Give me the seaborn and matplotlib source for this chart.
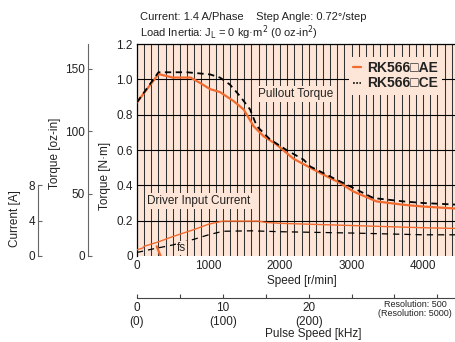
import numpy as np
import matplotlib
matplotlib.use("Agg")
import matplotlib.pyplot as plt
import seaborn as sns

# ---- data ----
speed_ae = [0, 300, 500, 750, 880, 1020, 1160, 1350, 1490, 1630, 1770, 1950, 2190,
            2560, 2840, 3025, 3350, 3725, 4000, 4600]
torque_ae = [0.87, 1.03, 1.01, 1.01, 0.98, 0.945, 0.928, 0.877, 0.83, 0.735, 0.678,
             0.631, 0.55, 0.47, 0.413, 0.365, 0.309, 0.29, 0.28, 0.265]

speed_ce = [0, 300, 700, 1020, 1160, 1300, 1440, 1580, 1675, 1860, 2090, 2330, 2420,
            2750, 3025, 3305, 3725, 4000, 4600]
torque_ce = [0.87, 1.04, 1.04, 1.028, 1.01, 0.97, 0.905, 0.83, 0.735, 0.66, 0.6,
             0.545, 0.507, 0.44, 0.385, 0.328, 0.309, 0.3, 0.288]

cur_speed_ae = [0, 80, 100, 300, 500, 800, 1000, 1200, 1700, 1800, 2000, 3000, 4000, 4600]
current_ae = [0.7, 0.9, 1.1, 1.6, 2.2, 3.0, 3.6, 3.95, 3.95, 3.8, 3.7, 3.45, 3.2, 3.1]

cur_speed_ce = [0, 200, 500, 800, 1000, 1200, 1600, 2000, 3000, 4000, 4600]
current_ce = [0.4, 0.76, 1.25, 1.9, 2.4, 2.8, 2.85, 2.75, 2.6, 2.4, 2.4]

fs_speed = [275, 330]
fs_current = [1.1, 0.0]

speed_ticks = [0, 1000, 2000, 3000, 4000]
torque_ticks = [0, 0.2, 0.4, 0.6, 0.8, 1.0, 1.2]
torque_labels = ["0", "0.2", "0.4", "0.6", "0.8", "1.0", "1.2"]
ozin_ticks = [0, 50, 100, 150]
current_ticks = [0, 4, 8]
pulse_ticks = [0, 5, 10, 15, 20, 25, 30, 35]
pulse_labels = ["0\n(0)", "", "10\n(100)", "", "20\n(200)", "", "", ""]

ORANGE = "#f26a2e"
PEACH = "#fde6d7"
FONT = ["Liberation Sans", "DejaVu Sans"]
TICK_SIZE = 8.5

sns.set_style("white")
plt.rcParams["font.family"] = FONT
plt.rcParams["font.size"] = 8
plt.rcParams["text.color"] = "#222222"

W, H = 456, 342
fig = plt.figure(figsize=(W / 100, H / 100), dpi=100)
# plot box in pixels: x 137 -> 466 (cropped by the figure edge), y 44 -> 256
ax = fig.add_axes([137 / W, (H - 256) / H, 329 / W, 212 / H])
ax.set_facecolor(PEACH)
xmax = 4600
ax.set_xlim(0, xmax)
ax.set_ylim(0, 1.2)

# grid: vertical every 100 r/min, horizontal every 0.2 N·m
for v in range(100, xmax, 100):
    ax.axvline(v, color="#333333", lw=0.75, zorder=1)
for h in torque_ticks[1:-1]:
    ax.axhline(h, color="black", lw=0.8, zorder=1)

sns.lineplot(x=speed_ae, y=torque_ae, ax=ax, color=ORANGE, lw=1.6,
             label="RK566\u25a1AE", zorder=4)
sns.lineplot(x=speed_ce, y=torque_ce, ax=ax, color="black", lw=1.3,
             linestyle=(0, (3.5, 2.5)), label="RK566\u25a1CE", zorder=4)

ax.set_xticks(speed_ticks)
ax.set_yticks(torque_ticks)
ax.set_yticklabels(torque_labels)
ax.tick_params(axis="both", length=0, pad=3, labelsize=TICK_SIZE, labelcolor="#222222")
ax.set_xlabel("")
ax.set_ylabel("")
for s in ["left", "top"]:
    ax.spines[s].set_color("black")
    ax.spines[s].set_linewidth(0.9)
ax.spines["right"].set_visible(False)
ax.spines["bottom"].set_visible(False)

leg = ax.legend(loc="upper right", bbox_to_anchor=(0.927, 0.939), borderaxespad=0,
                frameon=True, facecolor=PEACH, edgecolor="none", framealpha=1,
                fancybox=False, handlelength=0.6, handletextpad=0.4,
                labelspacing=0.1, borderpad=0.3,
                prop={"family": FONT, "weight": "bold", "size": 10})
leg.set_zorder(6)
leg.get_lines()[1].set_linestyle((0, (1.2, 0.9)))
leg.get_lines()[1].set_linewidth(1.1)

ax.text(1690, 0.915, "Pullout Torque", fontsize=8.5, va="center", ha="left", zorder=5,
        bbox=dict(facecolor=PEACH, edgecolor="none", pad=1.5))
ax.text(145, 0.312, "Driver Input Current", fontsize=8.5, va="center", ha="left", zorder=5,
        bbox=dict(facecolor=PEACH, edgecolor="none", pad=1.5))

# current axis (same box, own scale: 0.2 N·m <-> 4 A)
axc = ax.twinx()
axc.set_ylim(0, 24)
sns.lineplot(x=cur_speed_ae, y=current_ae, ax=axc, color=ORANGE, lw=1.0, zorder=3)
sns.lineplot(x=cur_speed_ce, y=current_ce, ax=axc, color="black", lw=0.9,
             linestyle=(0, (5, 4)), zorder=3)
sns.lineplot(x=fs_speed, y=fs_current, ax=axc, color=ORANGE, lw=1.6)
axc.text(560, 0.9, "fs", fontsize=8.5, va="center", ha="left", zorder=5,
         bbox=dict(facecolor=PEACH, edgecolor="none", pad=0.8))
axc.yaxis.set_ticks_position("left")
axc.spines["left"].set_position(("axes", -(137 - 38) / 329))
axc.spines["left"].set_bounds(0, 8)
for s in ["right", "top", "bottom"]:
    axc.spines[s].set_visible(False)
axc.spines["left"].set_color("#666666")
axc.set_yticks(current_ticks)
axc.tick_params(axis="y", direction="in", length=3, color="#666666", pad=2,
                labelsize=TICK_SIZE, labelcolor="#222222")
axc.set_ylabel("")

# oz-in axis
axo = ax.twinx()
axo.set_ylim(0, 1.2 * 141.6)
axo.yaxis.set_ticks_position("left")
axo.spines["left"].set_position(("axes", -(137 - 88) / 329))
for s in ["right", "top", "bottom"]:
    axo.spines[s].set_visible(False)
axo.spines["left"].set_color("#666666")
axo.set_yticks(ozin_ticks)
axo.tick_params(axis="y", direction="in", length=3, color="#666666", pad=2,
                labelsize=TICK_SIZE, labelcolor="#222222")

# pulse speed axis below
axp = ax.twiny()
axp.set_xlim(0, xmax / 120)
axp.xaxis.set_ticks_position("bottom")
axp.spines["bottom"].set_position(("axes", -(298 - 256) / 212))
for s in ["left", "right", "top"]:
    axp.spines[s].set_visible(False)
axp.spines["bottom"].set_color("#444444")
axp.set_xticks(pulse_ticks)
axp.set_xticklabels(pulse_labels, linespacing=1.15)
axp.tick_params(axis="x", direction="in", length=3, color="#444444", pad=3,
                labelsize=TICK_SIZE, labelcolor="#222222")

# labels and notes
fig.text(302 / W, 1 - 281 / H, "Speed [r/min]", ha="center", va="center", fontsize=8.5)
fig.text(313 / W, 1 - 334 / H, "Pulse Speed [kHz]", ha="center", va="center", fontsize=8.5)
fig.text(415 / W, 1 - 309 / H, "Resolution: 500\n(Resolution: 5000)", ha="center",
         va="center", fontsize=6.5, linespacing=1.1)
fig.text(105 / W, 1 - 176 / H, "Torque [N·m]", rotation=90, ha="center", va="center", fontsize=8.5)
fig.text(55 / W, 1 - 153 / H, "Torque [oz-in]", rotation=90, ha="center", va="center", fontsize=8.5)
fig.text(15 / W, 1 - 219 / H, "Current [A]", rotation=90, ha="center", va="center", fontsize=8.5)
fig.text(140 / W, 1 - 17 / H, "Current: 1.4 A/Phase    Step Angle: 0.72°/step",
         ha="left", va="center", fontsize=8)
fig.text(140 / W, 1 - 33 / H, "Load Inertia: J$_{\\mathrm{L}}$ = 0 kg·m$^2$ (0 oz-in$^2$)",
         ha="left", va="center", fontsize=8)

fig.savefig("out.png", dpi=100)
